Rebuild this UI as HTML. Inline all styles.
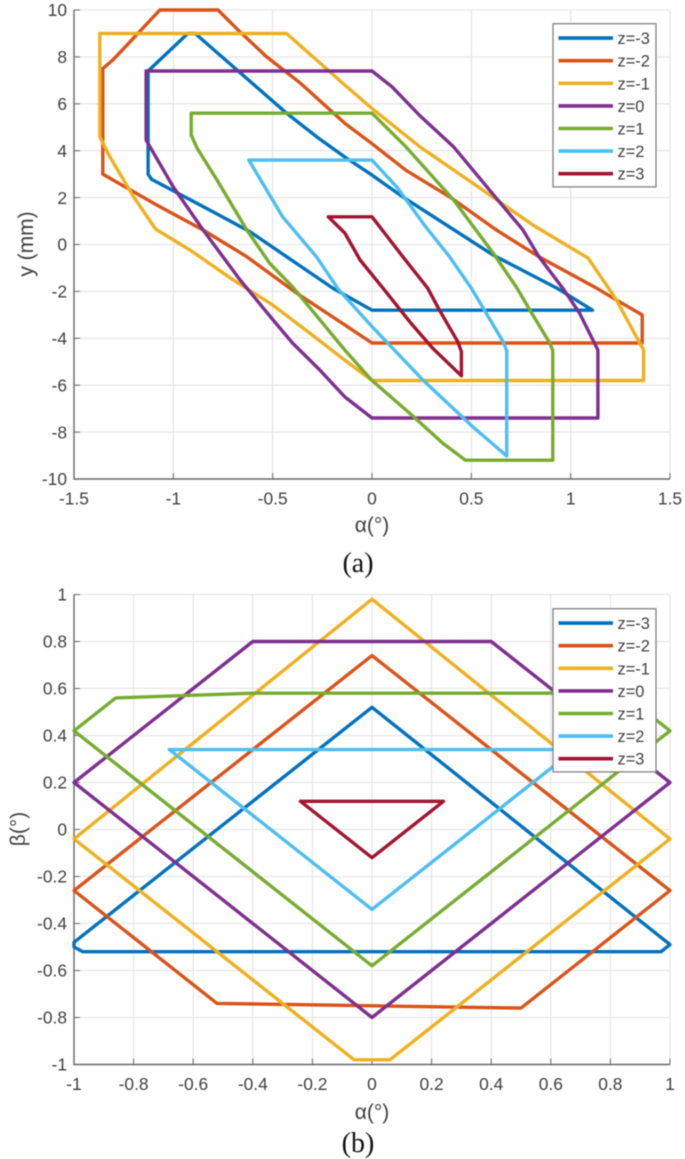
<!DOCTYPE html>
<html lang="en">
<head>
<meta charset="utf-8">
<title>Workspace charts</title>
<style>
  html, body { margin: 0; padding: 0; background: #fff; }
  body { width: 685px; height: 1159px; overflow: hidden; }
  svg { display: block; font-family: "Liberation Sans", sans-serif; filter: blur(0.5px); }
  .cap { font-family: "Liberation Serif", serif; }
</style>
</head>
<body>
<svg id="figure" xmlns="http://www.w3.org/2000/svg" width="685" height="1159" viewBox="0 0 685 1159"></svg>
<script>
// Shared
const seriesLabels = ['z=-3', 'z=-2', 'z=-1', 'z=0', 'z=1', 'z=2', 'z=3'];
const seriesColors = ['#0072bd', '#d95319', '#edb120', '#7e2f8e', '#77ac30', '#4dbeee', '#a2142f'];

// Chart (a) ticks
const aXTicks = [-1.5, -1, -0.5, 0, 0.5, 1, 1.5];
const aYTicks = [-10, -8, -6, -4, -2, 0, 2, 4, 6, 8, 10];

// Chart (a) series: alpha values and y values
const aAlphaM3 = [-1.127, -1.127, -0.927, -0.89, -0.43, -0.28, -0.137, 0, 0.155, 0.61, 0.93, 1.11, 0, -0.196, -0.615, -0.8, -1.11, -1.127];
const aYM3 = [3.0, 7.4, 9, 9, 5.6, 4.6, 3.73, 2.96, 2.03, -0.45, -1.86, -2.8, -2.8, -1.87, 0.55, 1.39, 2.78, 3.0];

const aAlphaM2 = [-1.355, -1.355, -1.3, -1.068, -0.775, -0.665, -0.53, -0.36, -0.137, 0, 0.17, 0.4, 0.626, 0.84, 1.13, 1.23, 1.36, 1.36, 0, -0.137, -0.38, -0.63, -0.85, -1.10, -1.355];
const aYM2 = [3.0, 7.5, 7.9, 10, 10, 9.07, 8.0, 6.88, 5.17, 4.3, 3.17, 1.98, 0.62, -0.52, -1.86, -2.37, -3.0, -4.2, -4.2, -3.43, -2.07, -0.52, 0.62, 1.76, 3.0];

const aAlphaM1 = [-1.37, -0.43, -0.137, 0, 0.24, 0.51, 0.81, 1.087, 1.197, 1.23, 1.367, 1.367, 0, -0.137, -0.31, -0.5, -0.70, -0.917, -1.09, -1.2, -1.32, -1.37, -1.37];
const aYM1 = [9, 9, 6.8, 5.8, 4.17, 2.6, 0.83, -0.58, -1.94, -2.37, -4.5, -5.8, -5.8, -4.93, -3.8, -2.58, -1.5, -0.23, 0.66, 2.04, 3.74, 4.6, 9];

const aAlpha0 = [-1.137, 0, 0.1, 0.24, 0.41, 0.626, 0.76, 0.84, 0.96, 1.045, 1.137, 1.137, 0, -0.137, -0.263, -0.4, -0.5, -0.665, -0.85, -1.0, -1.137, -1.137];
const aY0 = [7.4, 7.4, 6.73, 5.5, 4.17, 1.97, 0.62, -0.52, -1.86, -2.93, -4.5, -7.4, -7.4, -6.5, -5.35, -4.2, -3.2, -1.5, 0.62, 2.45, 4.45, 7.4];

const aAlpha1 = [-0.91, 0, 0.17, 0.41, 0.61, 0.73, 0.8, 0.895, 0.91, 0.91, 0.47, 0.356, 0.2, 0, -0.137, -0.4, -0.515, -0.63, -0.78, -0.88, -0.91, -0.91];
const aY1 = [5.6, 5.6, 4.17, 1.9, -0.37, -1.86, -2.87, -4.2, -4.53, -9.2, -9.2, -8.47, -7.27, -5.8, -4.5, -1.8, -0.8, 0.62, 2.75, 4.1, 4.67, 5.6];

const aAlpha2 = [-0.62, 0, 0.13, 0.27, 0.39, 0.5, 0.575, 0.66, 0.678, 0.678, 0.507, 0.256, 0, -0.17, -0.28, -0.45, -0.62];
const aY2 = [3.6, 3.6, 2.4, 0.76, -0.52, -1.86, -2.93, -4.15, -4.53, -9.02, -7.77, -5.78, -3.5, -1.9, -0.52, 1.18, 3.6];

const aAlpha3 = [-0.22, 0, 0.155, 0.28, 0.34, 0.432, 0.45, 0.45, 0.305, 0.19, 0.055, -0.06, -0.137, -0.22];
const aY3 = [1.18, 1.18, -0.52, -1.86, -2.8, -4.15, -4.57, -5.6, -4.42, -3.29, -1.86, -0.66, 0.49, 1.18];

// Chart (b) ticks
const bXTicks = [-1, -0.8, -0.6, -0.4, -0.2, 0, 0.2, 0.4, 0.6, 0.8, 1];
const bYTicks = [-1, -0.8, -0.6, -0.4, -0.2, 0, 0.2, 0.4, 0.6, 0.8, 1];

// Chart (b) series: alpha values and beta values
const bAlphaM3 = [-1, 0, 1, 0.97, -0.97, -1, -1];
const bBetaM3 = [-0.48, 0.52, -0.49, -0.52, -0.52, -0.5, -0.48];

const bAlphaM2 = [-1, 0, 1, 0.5, -0.52, -1];
const bBetaM2 = [-0.26, 0.74, -0.26, -0.76, -0.74, -0.26];

const bAlphaM1 = [-1, 0, 1, 0.06, -0.06, -1];
const bBetaM1 = [-0.04, 0.98, -0.04, -0.98, -0.98, -0.04];

const bAlpha0 = [-1, -0.4, 0.4, 1, 0, -1];
const bBeta0 = [0.2, 0.8, 0.8, 0.2, -0.8, 0.2];

const bAlpha1 = [-1, -0.86, -0.4, 0.84, 1, 0, -1];
const bBeta1 = [0.42, 0.56, 0.58, 0.58, 0.42, -0.58, 0.42];

const bAlpha2 = [-0.68, 0.68, 0, -0.68];
const bBeta2 = [0.34, 0.34, -0.34, 0.34];

const bAlpha3 = [-0.24, 0.24, 0, -0.24];
const bBeta3 = [0.12, 0.12, -0.12, 0.12];

const NS = 'http://www.w3.org/2000/svg';
const fig = document.getElementById('figure');

function mk(parent, tag, attrs, name, text) {
  const el = document.createElementNS(NS, tag);
  for (const k in attrs) el.setAttribute(k, attrs[k]);
  
  
  if (text !== undefined) el.textContent = text;
  parent.appendChild(el);
  return el;
}

function drawChart(id, box, xTicks, yTicks, xs, ys, legendTop, rowGap) {
  const g = mk(fig, 'g', {}, id);
  const xMin = xTicks[0], xMax = xTicks[xTicks.length - 1];
  const yMin = yTicks[0], yMax = yTicks[yTicks.length - 1];
  const sx = v => box.left + (v - xMin) / (xMax - xMin) * (box.right - box.left);
  const sy = v => box.bottom - (v - yMin) / (yMax - yMin) * (box.bottom - box.top);

  // grid
  xTicks.forEach(t => {
    mk(g, 'line', { x1: sx(t), x2: sx(t), y1: box.top, y2: box.bottom, stroke: '#e2e2e2', 'stroke-width': 1.1 }, 'x-gridline');
  });
  yTicks.forEach(t => {
    mk(g, 'line', { x1: box.left, x2: box.right, y1: sy(t), y2: sy(t), stroke: '#e2e2e2', 'stroke-width': 1.1 }, 'y-gridline');
  });

  // axes
  mk(g, 'line', { x1: box.left, x2: box.left, y1: box.top, y2: box.bottom + 0.7, stroke: '#666', 'stroke-width': 1.4 }, 'y-axis-line');
  mk(g, 'line', { x1: box.left, x2: box.right, y1: box.bottom, y2: box.bottom, stroke: '#666', 'stroke-width': 1.4 }, 'x-axis-line');

  // ticks and labels
  xTicks.forEach(t => {
    mk(g, 'line', { x1: sx(t), x2: sx(t), y1: box.bottom, y2: box.bottom - 6, stroke: '#666', 'stroke-width': 1 }, 'x-tick');
    mk(g, 'text', { x: sx(t), y: box.bottom + 25.5, 'text-anchor': 'middle', 'font-size': 17.4, fill: '#404040' }, 'x-tick-label', String(t));
  });
  yTicks.forEach(t => {
    mk(g, 'line', { x1: box.left, x2: box.left + 6, y1: sy(t), y2: sy(t), stroke: '#666', 'stroke-width': 1 }, 'y-tick');
    mk(g, 'text', { x: box.left - 7, y: sy(t) + 6.2, 'text-anchor': 'end', 'font-size': 17.4, fill: '#404040' }, 'y-tick-label', String(t));
  });

  // series
  xs.forEach((arr, i) => {
    const pts = arr.map((v, j) => sx(v).toFixed(1) + ',' + sy(ys[i][j]).toFixed(1)).join(' ');
    mk(g, 'polyline', { points: pts, fill: 'none', stroke: seriesColors[i], 'stroke-width': 3.4, 'stroke-linejoin': 'round', 'stroke-linecap': 'round' }, 'series-' + seriesLabels[i]);
  });

  // legend
  const lg = mk(g, 'g', {}, 'legend');
  mk(lg, 'rect', { x: 553, y: legendTop, width: 103, height: rowGap * 7 + 5, fill: '#fff', stroke: '#808080', 'stroke-width': 1.3 }, 'legend-box');
  seriesLabels.forEach((lab, i) => {
    const rowY = legendTop + 14.4 + i * rowGap;
    mk(lg, 'line', { x1: 558.5, x2: 613, y1: rowY, y2: rowY, stroke: seriesColors[i], 'stroke-width': 3.6 }, 'legend-line');
    mk(lg, 'text', { x: 617.5, y: rowY + 6, 'font-size': 16.4, fill: '#404040' }, 'legend-label', lab);
  });
  return g;
}

const chartA = drawChart('chart-a', { left: 74, right: 670, top: 10, bottom: 479 }, aXTicks, aYTicks,
  [aAlphaM3, aAlphaM2, aAlphaM1, aAlpha0, aAlpha1, aAlpha2, aAlpha3],
  [aYM3, aYM2, aYM1, aY0, aY1, aY2, aY3], 23.7, 22.6);

const chartB = drawChart('chart-b', { left: 74, right: 670, top: 594.5, bottom: 1064.5 }, bXTicks, bYTicks,
  [bAlphaM3, bAlphaM2, bAlphaM1, bAlpha0, bAlpha1, bAlpha2, bAlpha3],
  [bBetaM3, bBetaM2, bBetaM1, bBeta0, bBeta1, bBeta2, bBeta3], 608.7, 22.6);

// Axis titles and captions
mk(chartA, 'text', { x: 372, y: 532, 'text-anchor': 'middle', 'font-size': 21, fill: '#404040' }, 'x-axis-title', 'α(°)');
mk(chartA, 'text', { transform: 'translate(33,244) rotate(-90)', 'text-anchor': 'middle', 'font-size': 21, fill: '#404040' }, 'y-axis-title', 'y (mm)');
mk(chartA, 'text', { x: 358, y: 572, 'text-anchor': 'middle', 'font-size': 28, fill: '#111', class: 'cap' }, 'caption-a', '(a)');

mk(chartB, 'text', { x: 372, y: 1119, 'text-anchor': 'middle', 'font-size': 21, fill: '#404040' }, 'x-axis-title', 'α(°)');
mk(chartB, 'text', { transform: 'translate(25,829) rotate(-90)', 'text-anchor': 'middle', 'font-size': 21, fill: '#404040' }, 'y-axis-title', 'β(°)');
mk(chartB, 'text', { x: 358, y: 1152, 'text-anchor': 'middle', 'font-size': 28, fill: '#111', class: 'cap' }, 'caption-b', '(b)');
</script>
</body>
</html>
